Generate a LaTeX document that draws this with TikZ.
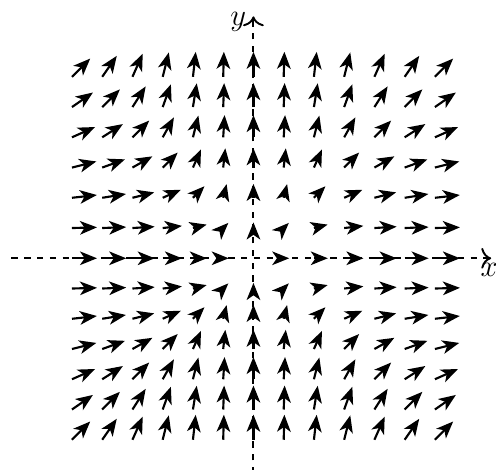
\documentclass[tikz,border=0pt]{standalone}
\usetikzlibrary{arrows.meta}
\begin{document}
\begin{tikzpicture}[
  vec/.style={line width=1pt,-{Stealth[length=8pt,width=6.4pt,inset=2.2pt]}},
  axisline/.style={line width=0.9pt,dashed,-{To[scale=1.3]}},
  lab/.style={font=\Large,inner sep=2pt}
]
\useasboundingbox (-4.19,-3.50) rectangle (4.01,4.27);
\coordinate (xl) at (-4,0);
\coordinate (xr) at (3.93,0);
\coordinate (yb) at (0,-3.55);
\coordinate (yt) at (0,4);
\draw[axisline] (xl) -- (xr) node[lab,below,xshift=-1pt] (xlab) {$x$};
\draw[axisline] (yb) -- (yt) node[lab,left,yshift=-2.5pt,xshift=-1pt] (ylab) {$y$};
\foreach \i in {-6,...,6}{
  \foreach \j in {-6,...,6}{
    \pgfmathsetmacro{\xx}{\i/2}
    \pgfmathsetmacro{\yy}{\j/2}
    \pgfmathsetmacro{\ax}{\xx*\xx}
    \pgfmathsetmacro{\ay}{\yy*\yy}
    \pgfmathsetmacro{\mm}{sqrt(\ax*\ax+\ay*\ay)}
    \pgfmathsetmacro{\ss}{0.46/(\mm+1)}
    \ifdim\mm pt>0.001pt
      \coordinate (p\i\j) at (\xx,\yy);
      \coordinate (q\i\j) at ({\xx+\ss*\ax},{\yy+\ss*\ay});
      \draw[vec] (p\i\j) -- (q\i\j);
    \fi
  }
}
\end{tikzpicture}
\end{document}
